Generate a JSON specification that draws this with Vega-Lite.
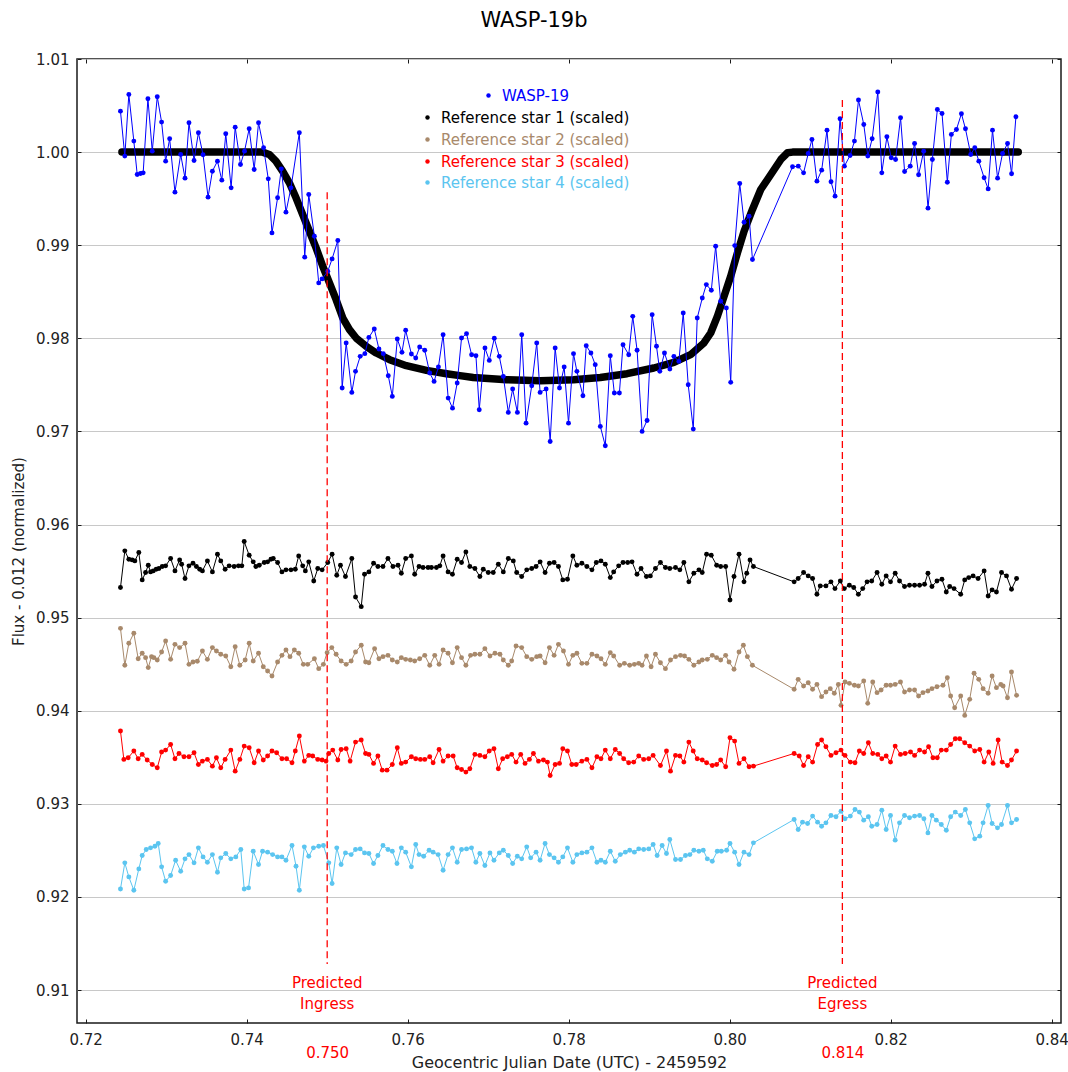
{
"$schema": "https://vega.github.io/schema/vega-lite/v6.json",
"width": 984, "height": 964,
"autosize": {"type": "none"},
"padding": {"left": 77, "top": 59, "right": 7, "bottom": 49},
"background": "white",
"title": {"text": "WASP-19b", "fontSize": 21, "font": "DejaVu Sans", "fontWeight": "normal", "color": "#000000", "anchor": "middle", "dx": -35, "offset": 21},
"config": {
  "view": {"stroke": "#1a1a1a", "strokeWidth": 1.5},
  "axis": {"labelFont": "DejaVu Sans", "labelFontSize": 15, "labelColor": "#222222", "titleFont": "DejaVu Sans", "titleFontSize": 15, "titleFontWeight": "normal", "titleColor": "#222222", "domain": false, "tickColor": "#1a1a1a", "tickSize": -4, "tickWidth": 1},
  "legend": {"padding": 0, "labelFont": "DejaVu Sans", "labelFontSize": 15, "labelLimit": 400, "symbolType": "circle", "symbolSize": 20, "symbolStrokeWidth": 0, "labelOffset": 6}
},
"datasets": {
"model": [
{"t":0.7245,"f":1.0},{"t":0.74197,"f":1.0},{"t":0.74280,"f":0.99975},{"t":0.74363,"f":0.99903},{"t":0.74446,"f":0.99795},{"t":0.74530,"f":0.99670},{"t":0.74613,"f":0.99509},{"t":0.74696,"f":0.99329},{"t":0.74779,"f":0.99150},{"t":0.74862,"f":0.98971},
{"t":0.74945,"f":0.98774},{"t":0.75028,"f":0.98595},{"t":0.75111,"f":0.98415},{"t":0.75194,"f":0.98218},{"t":0.75277,"f":0.98093},{"t":0.75360,"f":0.98003},{"t":0.75485,"f":0.97914},{"t":0.75610,"f":0.97842},{"t":0.75776,"f":0.97770},{"t":0.75983,"f":0.97706},
{"t":0.76233,"f":0.97656},{"t":0.76482,"f":0.97620},{"t":0.76648,"f":0.97599},{"t":0.76814,"f":0.97580},{"t":0.77230,"f":0.97555},{"t":0.77645,"f":0.97545},{"t":0.78060,"f":0.97555},{"t":0.78393,"f":0.97580},{"t":0.78725,"f":0.97620},{"t":0.79057,"f":0.97681},
{"t":0.79307,"f":0.97742},{"t":0.79514,"f":0.97824},{"t":0.79680,"f":0.97950},{"t":0.79764,"f":0.98057},{"t":0.79847,"f":0.98236},{"t":0.79930,"f":0.98451},{"t":0.80013,"f":0.98666},{"t":0.80096,"f":0.98917},{"t":0.80179,"f":0.99150},{"t":0.80283,"f":0.99384},
{"t":0.80386,"f":0.99598},{"t":0.80470,"f":0.99706},{"t":0.80553,"f":0.99813},{"t":0.80636,"f":0.99921},{"t":0.80719,"f":0.99993},{"t":0.80781,"f":1.0},{"t":0.83585,"f":1.0}
],
"wasp": [
{"t":0.72432,"f":1.00440},{"t":0.72486,"f":0.99957},{"t":0.72536,"f":1.00620},{"t":0.72598,"f":1.00118},{"t":0.72640,"f":0.99759},{"t":0.72681,"f":0.99770},{"t":0.72714,"f":0.99777},{"t":0.72773,"f":1.00573},{"t":0.72827,"f":1.00010},{"t":0.72889,"f":1.00595},
{"t":0.72943,"f":1.00322},{"t":0.72993,"f":0.99903},{"t":0.73043,"f":1.00143},{"t":0.73109,"f":0.99570},{"t":0.73180,"f":0.99975},{"t":0.73234,"f":0.99720},{"t":0.73283,"f":1.00315},{"t":0.73346,"f":0.99910},{"t":0.73400,"f":1.00208},{"t":0.73458,"f":0.99971},
{"t":0.73520,"f":0.99516},{"t":0.73574,"f":0.99795},{"t":0.73637,"f":0.99903},{"t":0.73691,"f":0.99699},{"t":0.73740,"f":1.00197},{"t":0.73807,"f":0.99616},{"t":0.73857,"f":1.00268},{"t":0.73923,"f":0.99867},{"t":0.73973,"f":1.00010},{"t":0.74031,"f":1.00251},
{"t":0.74093,"f":0.99813},{"t":0.74147,"f":1.00315},{"t":0.74210,"f":1.00046},{"t":0.74268,"f":0.99713},{"t":0.74314,"f":0.99132},{"t":0.74384,"f":0.99509},{"t":0.74430,"f":0.99820},{"t":0.74488,"f":0.99355},{"t":0.74550,"f":0.99616},{"t":0.74654,"f":1.00208},
{"t":0.74721,"f":0.98872},{"t":0.74771,"f":0.99545},{"t":0.74841,"f":0.99096},{"t":0.74895,"f":0.98595},{"t":0.74937,"f":0.98638},{"t":0.75007,"f":0.98720},{"t":0.75061,"f":0.98853},{"t":0.75132,"f":0.99050},{"t":0.75186,"f":0.97467},{"t":0.75236,"f":0.97950},
{"t":0.75306,"f":0.97419},{"t":0.75352,"f":0.97645},{"t":0.75410,"f":0.97806},{"t":0.75468,"f":0.97835},{"t":0.75518,"f":0.98010},{"t":0.75585,"f":0.98100},{"t":0.75643,"f":0.97885},{"t":0.75697,"f":0.97835},{"t":0.75759,"f":0.97598},{"t":0.75809,"f":0.97376},
{"t":0.75871,"f":0.97992},{"t":0.75929,"f":0.97849},{"t":0.75975,"f":0.98086},{"t":0.76046,"f":0.97832},{"t":0.76100,"f":0.97788},{"t":0.76149,"f":0.97907},{"t":0.76212,"f":0.97871},{"t":0.76274,"f":0.97627},{"t":0.76328,"f":0.97537},{"t":0.76382,"f":0.97692},
{"t":0.76440,"f":0.98039},{"t":0.76503,"f":0.97358},{"t":0.76557,"f":0.97250},{"t":0.76615,"f":0.97520},{"t":0.76669,"f":0.98003},{"t":0.76731,"f":0.98050},{"t":0.76794,"f":0.97824},{"t":0.76848,"f":0.97813},{"t":0.76889,"f":0.97233},{"t":0.76960,"f":0.97896},
{"t":0.77014,"f":0.97763},{"t":0.77076,"f":0.98000},{"t":0.77138,"f":0.97806},{"t":0.77188,"f":0.97591},{"t":0.77250,"f":0.97204},{"t":0.77304,"f":0.97455},{"t":0.77363,"f":0.97204},{"t":0.77417,"f":0.98039},{"t":0.77471,"f":0.97089},{"t":0.77541,"f":0.97491},
{"t":0.77603,"f":0.97950},{"t":0.77645,"f":0.97419},{"t":0.77720,"f":0.97455},{"t":0.77770,"f":0.96892},{"t":0.77832,"f":0.97896},{"t":0.77886,"f":0.97466},{"t":0.77944,"f":0.97692},{"t":0.77998,"f":0.97089},{"t":0.78060,"f":0.97835},{"t":0.78102,"f":0.97645},
{"t":0.78177,"f":0.97383},{"t":0.78218,"f":0.97921},{"t":0.78276,"f":0.97842},{"t":0.78330,"f":0.97717},{"t":0.78393,"f":0.97054},{"t":0.78455,"f":0.96846},{"t":0.78517,"f":0.97813},{"t":0.78567,"f":0.97412},{"t":0.78630,"f":0.97412},{"t":0.78675,"f":0.97931},
{"t":0.78746,"f":0.97824},{"t":0.78796,"f":0.98236},{"t":0.78850,"f":0.97871},{"t":0.78912,"f":0.97000},{"t":0.78974,"f":0.97118},{"t":0.79037,"f":0.98254},{"t":0.79091,"f":0.97914},{"t":0.79132,"f":0.97645},{"t":0.79190,"f":0.97842},{"t":0.79257,"f":0.97670},
{"t":0.79307,"f":0.97806},{"t":0.79369,"f":0.97752},{"t":0.79423,"f":0.98272},{"t":0.79485,"f":0.97501},{"t":0.79548,"f":0.97025},{"t":0.79597,"f":0.98218},{"t":0.79660,"f":0.98433},{"t":0.79710,"f":0.98577},{"t":0.79772,"f":0.98516},{"t":0.79826,"f":0.98989},
{"t":0.79888,"f":0.98398},{"t":0.79959,"f":0.98326},{"t":0.80013,"f":0.97527},{"t":0.80063,"f":0.98996},{"t":0.80125,"f":0.99663},{"t":0.80179,"f":0.99247},{"t":0.80241,"f":0.99312},{"t":0.80283,"f":0.98846},
{"t":0.80781,"f":0.99842},{"t":0.80852,"f":0.99849},{"t":0.80918,"f":0.99777},{"t":0.80976,"f":0.99985},{"t":0.81022,"f":1.00136},{"t":0.81084,"f":0.99688},{"t":0.81143,"f":0.99806},{"t":0.81209,"f":1.00236},{"t":0.81259,"f":0.99681},{"t":0.81309,"f":0.99527},
{"t":0.81371,"f":1.00358},{"t":0.81425,"f":0.99849},{"t":0.81496,"f":0.99964},{"t":0.81550,"f":1.00118},{"t":0.81600,"f":1.00559},{"t":0.81666,"f":1.00297},{"t":0.81716,"f":0.99957},{"t":0.81770,"f":1.00143},{"t":0.81840,"f":1.00645},{"t":0.81890,"f":0.99777},
{"t":0.81953,"f":1.00165},{"t":0.82007,"f":0.99939},{"t":0.82061,"f":0.99921},{"t":0.82123,"f":1.00369},{"t":0.82173,"f":0.99792},{"t":0.82243,"f":0.99849},{"t":0.82297,"f":1.00093},{"t":0.82347,"f":0.99756},{"t":0.82410,"f":1.00010},{"t":0.82464,"f":0.99398},
{"t":0.82518,"f":0.99921},{"t":0.82580,"f":1.00458},{"t":0.82638,"f":1.00415},{"t":0.82704,"f":0.99677},{"t":0.82754,"f":1.00190},{"t":0.82817,"f":1.00243},{"t":0.82879,"f":1.00412},{"t":0.82929,"f":1.00251},{"t":0.82995,"f":0.99975},{"t":0.83045,"f":1.00046},
{"t":0.83095,"f":0.99903},{"t":0.83161,"f":0.99724},{"t":0.83211,"f":0.99605},{"t":0.83265,"f":1.00236},{"t":0.83328,"f":0.99720},{"t":0.83390,"f":0.99985},{"t":0.83452,"f":1.00093},{"t":0.83502,"f":0.99767},{"t":0.83556,"f":1.00380}
],
"ref1": [
{"t":0.72432,"f":0.95323},{"t":0.72486,"f":0.95717},{"t":0.72536,"f":0.95627},{"t":0.72577,"f":0.95620},{"t":0.72611,"f":0.95609},{"t":0.72660,"f":0.95699},{"t":0.72702,"f":0.95405},{"t":0.72744,"f":0.95484},{"t":0.72777,"f":0.95563},{"t":0.72806,"f":0.95491},
{"t":0.72839,"f":0.95502},{"t":0.72876,"f":0.95520},{"t":0.72910,"f":0.95527},{"t":0.72951,"f":0.95549},{"t":0.72993,"f":0.95556},{"t":0.73055,"f":0.95635},{"t":0.73109,"f":0.95502},{"t":0.73167,"f":0.95620},{"t":0.73192,"f":0.95574},{"t":0.73234,"f":0.95420},
{"t":0.73283,"f":0.95556},{"t":0.73333,"f":0.95584},{"t":0.73375,"f":0.95549},{"t":0.73416,"f":0.95520},{"t":0.73450,"f":0.95502},{"t":0.73512,"f":0.95609},{"t":0.73574,"f":0.95491},{"t":0.73637,"f":0.95681},{"t":0.73678,"f":0.95609},{"t":0.73732,"f":0.95520},
{"t":0.73782,"f":0.95556},{"t":0.73844,"f":0.95549},{"t":0.73898,"f":0.95556},{"t":0.73940,"f":0.95556},{"t":0.73969,"f":0.95817},{"t":0.74031,"f":0.95670},{"t":0.74081,"f":0.95599},{"t":0.74114,"f":0.95549},{"t":0.74156,"f":0.95563},{"t":0.74218,"f":0.95592},
{"t":0.74260,"f":0.95599},{"t":0.74301,"f":0.95627},{"t":0.74330,"f":0.95635},{"t":0.74384,"f":0.95592},{"t":0.74438,"f":0.95491},{"t":0.74488,"f":0.95513},{"t":0.74550,"f":0.95513},{"t":0.74604,"f":0.95520},{"t":0.74646,"f":0.95663},{"t":0.74696,"f":0.95556},
{"t":0.74729,"f":0.95502},{"t":0.74771,"f":0.95599},{"t":0.74833,"f":0.95394},{"t":0.74883,"f":0.95527},{"t":0.74937,"f":0.95513},{"t":0.75007,"f":0.95592},{"t":0.75061,"f":0.95681},{"t":0.75119,"f":0.95455},{"t":0.75165,"f":0.95563},{"t":0.75227,"f":0.95441},
{"t":0.75306,"f":0.95635},{"t":0.75352,"f":0.95222},{"t":0.75423,"f":0.95118},{"t":0.75464,"f":0.95466},{"t":0.75518,"f":0.95491},{"t":0.75576,"f":0.95584},{"t":0.75630,"f":0.95549},{"t":0.75693,"f":0.95549},{"t":0.75755,"f":0.95635},{"t":0.75817,"f":0.95549},
{"t":0.75880,"f":0.95563},{"t":0.75921,"f":0.95477},{"t":0.75975,"f":0.95635},{"t":0.76046,"f":0.95663},{"t":0.76087,"f":0.95466},{"t":0.76141,"f":0.95549},{"t":0.76191,"f":0.95538},{"t":0.76253,"f":0.95538},{"t":0.76295,"f":0.95538},{"t":0.76357,"f":0.95538},
{"t":0.76399,"f":0.95556},{"t":0.76440,"f":0.95663},{"t":0.76502,"f":0.95491},{"t":0.76556,"f":0.95466},{"t":0.76615,"f":0.95627},{"t":0.76669,"f":0.95592},{"t":0.76723,"f":0.95706},{"t":0.76772,"f":0.95549},{"t":0.76835,"f":0.95527},{"t":0.76897,"f":0.95441},
{"t":0.76939,"f":0.95520},{"t":0.77001,"f":0.95484},{"t":0.77063,"f":0.95484},{"t":0.77126,"f":0.95574},{"t":0.77188,"f":0.95491},{"t":0.77250,"f":0.95635},{"t":0.77312,"f":0.95609},{"t":0.77354,"f":0.95484},{"t":0.77416,"f":0.95441},{"t":0.77479,"f":0.95513},
{"t":0.77541,"f":0.95527},{"t":0.77595,"f":0.95549},{"t":0.77645,"f":0.95599},{"t":0.77707,"f":0.95484},{"t":0.77761,"f":0.95584},{"t":0.77819,"f":0.95592},{"t":0.77873,"f":0.95549},{"t":0.77927,"f":0.95405},{"t":0.77985,"f":0.95412},{"t":0.78052,"f":0.95663},
{"t":0.78102,"f":0.95563},{"t":0.78164,"f":0.95584},{"t":0.78226,"f":0.95549},{"t":0.78289,"f":0.95513},{"t":0.78343,"f":0.95592},{"t":0.78401,"f":0.95609},{"t":0.78455,"f":0.95574},{"t":0.78517,"f":0.95430},{"t":0.78559,"f":0.95491},{"t":0.78621,"f":0.95556},
{"t":0.78675,"f":0.95592},{"t":0.78733,"f":0.95592},{"t":0.78787,"f":0.95599},{"t":0.78849,"f":0.95466},{"t":0.78899,"f":0.95527},{"t":0.78966,"f":0.95441},{"t":0.79015,"f":0.95448},{"t":0.79078,"f":0.95527},{"t":0.79140,"f":0.95592},{"t":0.79202,"f":0.95538},
{"t":0.79256,"f":0.95527},{"t":0.79327,"f":0.95538},{"t":0.79381,"f":0.95513},{"t":0.79431,"f":0.95592},{"t":0.79493,"f":0.95384},{"t":0.79555,"f":0.95477},{"t":0.79618,"f":0.95513},{"t":0.79659,"f":0.95484},{"t":0.79713,"f":0.95681},{"t":0.79771,"f":0.95670},
{"t":0.79838,"f":0.95563},{"t":0.79888,"f":0.95549},{"t":0.79950,"f":0.95549},{"t":0.80004,"f":0.95190},{"t":0.80054,"f":0.95441},{"t":0.80116,"f":0.95681},{"t":0.80178,"f":0.95384},{"t":0.80212,"f":0.95477},{"t":0.80253,"f":0.95620},{"t":0.80295,"f":0.95549},
{"t":0.80801,"f":0.95384},{"t":0.80851,"f":0.95420},{"t":0.80918,"f":0.95484},{"t":0.80976,"f":0.95448},{"t":0.81030,"f":0.95420},{"t":0.81084,"f":0.95251},{"t":0.81125,"f":0.95341},{"t":0.81196,"f":0.95341},{"t":0.81258,"f":0.95384},{"t":0.81308,"f":0.95312},
{"t":0.81375,"f":0.95394},{"t":0.81424,"f":0.95312},{"t":0.81487,"f":0.95348},{"t":0.81541,"f":0.95323},{"t":0.81599,"f":0.95251},{"t":0.81653,"f":0.95312},{"t":0.81707,"f":0.95384},{"t":0.81765,"f":0.95394},{"t":0.81831,"f":0.95484},{"t":0.81890,"f":0.95359},
{"t":0.81944,"f":0.95448},{"t":0.81998,"f":0.95384},{"t":0.82056,"f":0.95477},{"t":0.82110,"f":0.95394},{"t":0.82172,"f":0.95334},{"t":0.82234,"f":0.95348},{"t":0.82297,"f":0.95348},{"t":0.82359,"f":0.95348},{"t":0.82421,"f":0.95359},{"t":0.82463,"f":0.95477},
{"t":0.82513,"f":0.95334},{"t":0.82575,"f":0.95394},{"t":0.82637,"f":0.95412},{"t":0.82691,"f":0.95276},{"t":0.82733,"f":0.95334},{"t":0.82787,"f":0.95312},{"t":0.82870,"f":0.95251},{"t":0.82920,"f":0.95405},{"t":0.82970,"f":0.95430},{"t":0.83024,"f":0.95448},
{"t":0.83086,"f":0.95420},{"t":0.83161,"f":0.95502},{"t":0.83211,"f":0.95233},{"t":0.83260,"f":0.95298},{"t":0.83314,"f":0.95276},{"t":0.83377,"f":0.95484},{"t":0.83439,"f":0.95448},{"t":0.83501,"f":0.95305},{"t":0.83564,"f":0.95420}
],
"ref2": [
{"t":0.72432,"f":0.94885},{"t":0.72486,"f":0.94488},{"t":0.72536,"f":0.94724},{"t":0.72598,"f":0.94832},{"t":0.72652,"f":0.94559},{"t":0.72702,"f":0.94617},{"t":0.72744,"f":0.94570},{"t":0.72777,"f":0.94463},{"t":0.72818,"f":0.94581},{"t":0.72847,"f":0.94570},
{"t":0.72889,"f":0.94545},{"t":0.72943,"f":0.94631},{"t":0.72993,"f":0.94749},{"t":0.73055,"f":0.94552},{"t":0.73109,"f":0.94713},{"t":0.73167,"f":0.94678},{"t":0.73234,"f":0.94724},{"t":0.73283,"f":0.94498},{"t":0.73333,"f":0.94523},{"t":0.73387,"f":0.94531},
{"t":0.73450,"f":0.94642},{"t":0.73512,"f":0.94552},{"t":0.73574,"f":0.94678},{"t":0.73624,"f":0.94642},{"t":0.73678,"f":0.94606},{"t":0.73740,"f":0.94588},{"t":0.73803,"f":0.94473},{"t":0.73857,"f":0.94688},{"t":0.73915,"f":0.94488},{"t":0.73981,"f":0.94545},
{"t":0.74031,"f":0.94724},{"t":0.74081,"f":0.94534},{"t":0.74147,"f":0.94617},{"t":0.74206,"f":0.94473},{"t":0.74260,"f":0.94427},{"t":0.74314,"f":0.94373},{"t":0.74384,"f":0.94523},{"t":0.74438,"f":0.94595},{"t":0.74488,"f":0.94653},{"t":0.74538,"f":0.94581},
{"t":0.74592,"f":0.94653},{"t":0.74646,"f":0.94617},{"t":0.74704,"f":0.94498},{"t":0.74758,"f":0.94498},{"t":0.74841,"f":0.94559},{"t":0.74895,"f":0.94452},{"t":0.74953,"f":0.94498},{"t":0.74999,"f":0.94624},{"t":0.75057,"f":0.94678},{"t":0.75111,"f":0.94606},
{"t":0.75173,"f":0.94534},{"t":0.75236,"f":0.94498},{"t":0.75298,"f":0.94534},{"t":0.75352,"f":0.94631},{"t":0.75423,"f":0.94703},{"t":0.75477,"f":0.94523},{"t":0.75518,"f":0.94516},{"t":0.75589,"f":0.94667},{"t":0.75643,"f":0.94559},{"t":0.75693,"f":0.94581},
{"t":0.75755,"f":0.94595},{"t":0.75809,"f":0.94545},{"t":0.75871,"f":0.94523},{"t":0.75921,"f":0.94570},{"t":0.75975,"f":0.94552},{"t":0.76033,"f":0.94545},{"t":0.76087,"f":0.94534},{"t":0.76149,"f":0.94559},{"t":0.76212,"f":0.94595},{"t":0.76274,"f":0.94488},
{"t":0.76336,"f":0.94595},{"t":0.76390,"f":0.94498},{"t":0.76440,"f":0.94653},{"t":0.76502,"f":0.94617},{"t":0.76556,"f":0.94516},{"t":0.76615,"f":0.94678},{"t":0.76669,"f":0.94570},{"t":0.76723,"f":0.94488},{"t":0.76781,"f":0.94595},{"t":0.76835,"f":0.94606},
{"t":0.76897,"f":0.94606},{"t":0.76959,"f":0.94667},{"t":0.77022,"f":0.94588},{"t":0.77084,"f":0.94617},{"t":0.77146,"f":0.94606},{"t":0.77188,"f":0.94545},{"t":0.77250,"f":0.94488},{"t":0.77292,"f":0.94534},{"t":0.77346,"f":0.94696},{"t":0.77416,"f":0.94678},
{"t":0.77479,"f":0.94581},{"t":0.77541,"f":0.94552},{"t":0.77603,"f":0.94581},{"t":0.77645,"f":0.94588},{"t":0.77707,"f":0.94516},{"t":0.77761,"f":0.94678},{"t":0.77819,"f":0.94595},{"t":0.77873,"f":0.94713},{"t":0.77935,"f":0.94642},{"t":0.77998,"f":0.94498},
{"t":0.78052,"f":0.94595},{"t":0.78102,"f":0.94617},{"t":0.78164,"f":0.94509},{"t":0.78226,"f":0.94509},{"t":0.78289,"f":0.94606},{"t":0.78351,"f":0.94588},{"t":0.78401,"f":0.94559},{"t":0.78455,"f":0.94498},{"t":0.78517,"f":0.94624},{"t":0.78559,"f":0.94588},
{"t":0.78633,"f":0.94488},{"t":0.78692,"f":0.94509},{"t":0.78758,"f":0.94488},{"t":0.78816,"f":0.94498},{"t":0.78870,"f":0.94509},{"t":0.78912,"f":0.94488},{"t":0.78966,"f":0.94588},{"t":0.79024,"f":0.94473},{"t":0.79078,"f":0.94606},{"t":0.79140,"f":0.94516},
{"t":0.79202,"f":0.94452},{"t":0.79265,"f":0.94545},{"t":0.79327,"f":0.94581},{"t":0.79389,"f":0.94595},{"t":0.79439,"f":0.94588},{"t":0.79493,"f":0.94552},{"t":0.79555,"f":0.94488},{"t":0.79618,"f":0.94523},{"t":0.79659,"f":0.94545},{"t":0.79722,"f":0.94552},
{"t":0.79784,"f":0.94595},{"t":0.79838,"f":0.94570},{"t":0.79888,"f":0.94545},{"t":0.79950,"f":0.94595},{"t":0.79992,"f":0.94523},{"t":0.80054,"f":0.94445},{"t":0.80116,"f":0.94631},{"t":0.80170,"f":0.94703},{"t":0.80220,"f":0.94581},{"t":0.80282,"f":0.94488},
{"t":0.80801,"f":0.94230},{"t":0.80851,"f":0.94337},{"t":0.80918,"f":0.94265},{"t":0.80976,"f":0.94301},{"t":0.81030,"f":0.94230},{"t":0.81084,"f":0.94283},{"t":0.81142,"f":0.94151},{"t":0.81196,"f":0.94201},{"t":0.81250,"f":0.94237},{"t":0.81300,"f":0.94187},
{"t":0.81350,"f":0.94283},{"t":0.81383,"f":0.94058},{"t":0.81433,"f":0.94308},{"t":0.81487,"f":0.94294},{"t":0.81549,"f":0.94273},{"t":0.81599,"f":0.94265},{"t":0.81665,"f":0.94319},{"t":0.81715,"f":0.94079},{"t":0.81777,"f":0.94308},{"t":0.81831,"f":0.94194},
{"t":0.81881,"f":0.94222},{"t":0.81944,"f":0.94273},{"t":0.81998,"f":0.94273},{"t":0.82056,"f":0.94283},{"t":0.82122,"f":0.94308},{"t":0.82172,"f":0.94201},{"t":0.82234,"f":0.94222},{"t":0.82297,"f":0.94222},{"t":0.82347,"f":0.94158},{"t":0.82401,"f":0.94194},
{"t":0.82463,"f":0.94212},{"t":0.82513,"f":0.94237},{"t":0.82575,"f":0.94258},{"t":0.82650,"f":0.94273},{"t":0.82704,"f":0.94355},{"t":0.82745,"f":0.94158},{"t":0.82795,"f":0.94032},{"t":0.82870,"f":0.94158},{"t":0.82920,"f":0.93950},{"t":0.82982,"f":0.94122},
{"t":0.83036,"f":0.94402},{"t":0.83094,"f":0.94337},{"t":0.83148,"f":0.94237},{"t":0.83211,"f":0.94187},{"t":0.83260,"f":0.94373},{"t":0.83314,"f":0.94248},{"t":0.83368,"f":0.94283},{"t":0.83397,"f":0.94265},{"t":0.83451,"f":0.94140},{"t":0.83501,"f":0.94416},{"t":0.83564,"f":0.94165}
],
"ref3": [
{"t":0.72432,"f":0.93782},{"t":0.72474,"f":0.93477},{"t":0.72528,"f":0.93495},{"t":0.72598,"f":0.93567},{"t":0.72652,"f":0.93484},{"t":0.72702,"f":0.93531},{"t":0.72764,"f":0.93470},{"t":0.72827,"f":0.93423},{"t":0.72889,"f":0.93387},{"t":0.72943,"f":0.93556},
{"t":0.72993,"f":0.93577},{"t":0.73055,"f":0.93638},{"t":0.73109,"f":0.93484},{"t":0.73159,"f":0.93541},{"t":0.73221,"f":0.93506},{"t":0.73283,"f":0.93506},{"t":0.73346,"f":0.93549},{"t":0.73400,"f":0.93423},{"t":0.73450,"f":0.93459},{"t":0.73512,"f":0.93477},
{"t":0.73574,"f":0.93405},{"t":0.73624,"f":0.93495},{"t":0.73678,"f":0.93387},{"t":0.73732,"f":0.93477},{"t":0.73803,"f":0.93577},{"t":0.73857,"f":0.93351},{"t":0.73915,"f":0.93477},{"t":0.73969,"f":0.93620},{"t":0.74031,"f":0.93602},{"t":0.74093,"f":0.93441},
{"t":0.74147,"f":0.93567},{"t":0.74206,"f":0.93470},{"t":0.74260,"f":0.93513},{"t":0.74314,"f":0.93567},{"t":0.74372,"f":0.93549},{"t":0.74438,"f":0.93484},{"t":0.74496,"f":0.93484},{"t":0.74563,"f":0.93441},{"t":0.74604,"f":0.93567},{"t":0.74654,"f":0.93728},
{"t":0.74716,"f":0.93459},{"t":0.74771,"f":0.93520},{"t":0.74820,"f":0.93513},{"t":0.74883,"f":0.93477},{"t":0.74937,"f":0.93470},{"t":0.74986,"f":0.93459},{"t":0.75020,"f":0.93541},{"t":0.75069,"f":0.93577},{"t":0.75132,"f":0.93470},{"t":0.75173,"f":0.93584},
{"t":0.75236,"f":0.93592},{"t":0.75285,"f":0.93459},{"t":0.75352,"f":0.93663},{"t":0.75423,"f":0.93685},{"t":0.75477,"f":0.93541},{"t":0.75518,"f":0.93531},{"t":0.75576,"f":0.93434},{"t":0.75630,"f":0.93513},{"t":0.75684,"f":0.93362},{"t":0.75743,"f":0.93362},
{"t":0.75809,"f":0.93423},{"t":0.75871,"f":0.93602},{"t":0.75921,"f":0.93434},{"t":0.75975,"f":0.93448},{"t":0.76046,"f":0.93506},{"t":0.76100,"f":0.93484},{"t":0.76158,"f":0.93477},{"t":0.76212,"f":0.93477},{"t":0.76274,"f":0.93506},{"t":0.76316,"f":0.93441},
{"t":0.76390,"f":0.93584},{"t":0.76440,"f":0.93459},{"t":0.76502,"f":0.93513},{"t":0.76565,"f":0.93513},{"t":0.76615,"f":0.93387},{"t":0.76669,"f":0.93369},{"t":0.76723,"f":0.93341},{"t":0.76772,"f":0.93377},{"t":0.76835,"f":0.93531},{"t":0.76897,"f":0.93520},
{"t":0.76959,"f":0.93506},{"t":0.77013,"f":0.93567},{"t":0.77072,"f":0.93592},{"t":0.77126,"f":0.93377},{"t":0.77180,"f":0.93484},{"t":0.77238,"f":0.93506},{"t":0.77292,"f":0.93531},{"t":0.77346,"f":0.93448},{"t":0.77404,"f":0.93531},{"t":0.77458,"f":0.93434},
{"t":0.77512,"f":0.93477},{"t":0.77562,"f":0.93541},{"t":0.77624,"f":0.93459},{"t":0.77686,"f":0.93470},{"t":0.77736,"f":0.93448},{"t":0.77770,"f":0.93305},{"t":0.77832,"f":0.93423},{"t":0.77886,"f":0.93434},{"t":0.77927,"f":0.93592},{"t":0.77985,"f":0.93567},
{"t":0.78039,"f":0.93423},{"t":0.78093,"f":0.93423},{"t":0.78164,"f":0.93459},{"t":0.78226,"f":0.93477},{"t":0.78289,"f":0.93387},{"t":0.78351,"f":0.93506},{"t":0.78401,"f":0.93484},{"t":0.78455,"f":0.93577},{"t":0.78517,"f":0.93484},{"t":0.78579,"f":0.93584},
{"t":0.78633,"f":0.93541},{"t":0.78683,"f":0.93484},{"t":0.78745,"f":0.93441},{"t":0.78808,"f":0.93448},{"t":0.78870,"f":0.93513},{"t":0.78932,"f":0.93477},{"t":0.78995,"f":0.93484},{"t":0.79049,"f":0.93520},{"t":0.79140,"f":0.93412},{"t":0.79215,"f":0.93567},
{"t":0.79265,"f":0.93351},{"t":0.79327,"f":0.93520},{"t":0.79381,"f":0.93513},{"t":0.79431,"f":0.93448},{"t":0.79493,"f":0.93663},{"t":0.79547,"f":0.93567},{"t":0.79597,"f":0.93484},{"t":0.79659,"f":0.93470},{"t":0.79713,"f":0.93441},{"t":0.79784,"f":0.93412},
{"t":0.79838,"f":0.93423},{"t":0.79888,"f":0.93470},{"t":0.79950,"f":0.93398},{"t":0.80004,"f":0.93710},{"t":0.80062,"f":0.93674},{"t":0.80116,"f":0.93434},{"t":0.80178,"f":0.93484},{"t":0.80241,"f":0.93398},{"t":0.80295,"f":0.93405},
{"t":0.80801,"f":0.93541},{"t":0.80864,"f":0.93513},{"t":0.80918,"f":0.93412},{"t":0.80976,"f":0.93506},{"t":0.81030,"f":0.93448},{"t":0.81092,"f":0.93638},{"t":0.81142,"f":0.93685},{"t":0.81196,"f":0.93613},{"t":0.81258,"f":0.93520},{"t":0.81321,"f":0.93549},
{"t":0.81383,"f":0.93577},{"t":0.81433,"f":0.93520},{"t":0.81499,"f":0.93448},{"t":0.81557,"f":0.93441},{"t":0.81611,"f":0.93567},{"t":0.81665,"f":0.93541},{"t":0.81723,"f":0.93656},{"t":0.81777,"f":0.93541},{"t":0.81840,"f":0.93531},{"t":0.81890,"f":0.93484},
{"t":0.81944,"f":0.93513},{"t":0.81998,"f":0.93448},{"t":0.82056,"f":0.93620},{"t":0.82122,"f":0.93531},{"t":0.82180,"f":0.93541},{"t":0.82247,"f":0.93556},{"t":0.82297,"f":0.93520},{"t":0.82359,"f":0.93577},{"t":0.82421,"f":0.93556},{"t":0.82471,"f":0.93613},
{"t":0.82525,"f":0.93495},{"t":0.82579,"f":0.93495},{"t":0.82629,"f":0.93577},{"t":0.82691,"f":0.93577},{"t":0.82745,"f":0.93638},{"t":0.82803,"f":0.93699},{"t":0.82857,"f":0.93699},{"t":0.82920,"f":0.93656},{"t":0.82982,"f":0.93620},{"t":0.83044,"f":0.93567},
{"t":0.83107,"f":0.93584},{"t":0.83161,"f":0.93448},{"t":0.83219,"f":0.93556},{"t":0.83273,"f":0.93434},{"t":0.83335,"f":0.93685},{"t":0.83385,"f":0.93448},{"t":0.83451,"f":0.93412},{"t":0.83501,"f":0.93470},{"t":0.83564,"f":0.93567}
],
"ref4": [
{"t":0.72432,"f":0.92086},{"t":0.72486,"f":0.92366},{"t":0.72536,"f":0.92215},{"t":0.72598,"f":0.92072},{"t":0.72660,"f":0.92301},{"t":0.72702,"f":0.92445},{"t":0.72752,"f":0.92509},{"t":0.72806,"f":0.92527},{"t":0.72860,"f":0.92545},{"t":0.72901,"f":0.92574},
{"t":0.72943,"f":0.92323},{"t":0.72993,"f":0.92169},{"t":0.73055,"f":0.92230},{"t":0.73117,"f":0.92394},{"t":0.73180,"f":0.92276},{"t":0.73234,"f":0.92409},{"t":0.73283,"f":0.92455},{"t":0.73346,"f":0.92366},{"t":0.73400,"f":0.92527},{"t":0.73458,"f":0.92430},
{"t":0.73512,"f":0.92373},{"t":0.73574,"f":0.92455},{"t":0.73637,"f":0.92265},{"t":0.73678,"f":0.92420},{"t":0.73740,"f":0.92466},{"t":0.73803,"f":0.92409},{"t":0.73865,"f":0.92430},{"t":0.73927,"f":0.92509},{"t":0.73969,"f":0.92086},{"t":0.74023,"f":0.92097},
{"t":0.74081,"f":0.92491},{"t":0.74147,"f":0.92348},{"t":0.74197,"f":0.92491},{"t":0.74260,"f":0.92481},{"t":0.74322,"f":0.92455},{"t":0.74384,"f":0.92430},{"t":0.74438,"f":0.92430},{"t":0.74488,"f":0.92394},{"t":0.74563,"f":0.92552},{"t":0.74613,"f":0.92330},
{"t":0.74654,"f":0.92072},{"t":0.74716,"f":0.92538},{"t":0.74771,"f":0.92437},{"t":0.74829,"f":0.92527},{"t":0.74895,"f":0.92545},{"t":0.74953,"f":0.92552},{"t":0.75020,"f":0.92366},{"t":0.75061,"f":0.92144},{"t":0.75119,"f":0.92527},{"t":0.75173,"f":0.92348},
{"t":0.75227,"f":0.92473},{"t":0.75298,"f":0.92455},{"t":0.75352,"f":0.92509},{"t":0.75410,"f":0.92516},{"t":0.75464,"f":0.92473},{"t":0.75518,"f":0.92466},{"t":0.75576,"f":0.92359},{"t":0.75630,"f":0.92445},{"t":0.75693,"f":0.92552},{"t":0.75755,"f":0.92509},
{"t":0.75809,"f":0.92491},{"t":0.75867,"f":0.92359},{"t":0.75921,"f":0.92527},{"t":0.75975,"f":0.92481},{"t":0.76046,"f":0.92323},{"t":0.76100,"f":0.92563},{"t":0.76141,"f":0.92455},{"t":0.76199,"f":0.92437},{"t":0.76266,"f":0.92502},{"t":0.76316,"f":0.92481},
{"t":0.76378,"f":0.92455},{"t":0.76440,"f":0.92287},{"t":0.76502,"f":0.92455},{"t":0.76556,"f":0.92527},{"t":0.76615,"f":0.92373},{"t":0.76669,"f":0.92509},{"t":0.76731,"f":0.92516},{"t":0.76793,"f":0.92527},{"t":0.76847,"f":0.92373},{"t":0.76897,"f":0.92466},
{"t":0.76959,"f":0.92337},{"t":0.77022,"f":0.92473},{"t":0.77072,"f":0.92394},{"t":0.77138,"f":0.92473},{"t":0.77188,"f":0.92502},{"t":0.77250,"f":0.92445},{"t":0.77304,"f":0.92359},{"t":0.77362,"f":0.92437},{"t":0.77416,"f":0.92409},{"t":0.77479,"f":0.92538},
{"t":0.77528,"f":0.92420},{"t":0.77595,"f":0.92481},{"t":0.77645,"f":0.92394},{"t":0.77707,"f":0.92574},{"t":0.77761,"f":0.92455},{"t":0.77819,"f":0.92420},{"t":0.77873,"f":0.92373},{"t":0.77927,"f":0.92430},{"t":0.77985,"f":0.92527},{"t":0.78052,"f":0.92373},
{"t":0.78102,"f":0.92455},{"t":0.78164,"f":0.92473},{"t":0.78226,"f":0.92481},{"t":0.78289,"f":0.92527},{"t":0.78351,"f":0.92373},{"t":0.78401,"f":0.92394},{"t":0.78455,"f":0.92373},{"t":0.78517,"f":0.92491},{"t":0.78579,"f":0.92384},{"t":0.78642,"f":0.92455},
{"t":0.78704,"f":0.92481},{"t":0.78758,"f":0.92502},{"t":0.78816,"f":0.92481},{"t":0.78870,"f":0.92516},{"t":0.78932,"f":0.92509},{"t":0.78995,"f":0.92516},{"t":0.79049,"f":0.92563},{"t":0.79099,"f":0.92445},{"t":0.79161,"f":0.92552},{"t":0.79215,"f":0.92466},
{"t":0.79256,"f":0.92617},{"t":0.79327,"f":0.92402},{"t":0.79389,"f":0.92402},{"t":0.79451,"f":0.92445},{"t":0.79506,"f":0.92455},{"t":0.79555,"f":0.92502},{"t":0.79618,"f":0.92491},{"t":0.79672,"f":0.92502},{"t":0.79722,"f":0.92409},{"t":0.79784,"f":0.92384},
{"t":0.79846,"f":0.92491},{"t":0.79896,"f":0.92491},{"t":0.79962,"f":0.92502},{"t":0.80004,"f":0.92574},{"t":0.80062,"f":0.92481},{"t":0.80116,"f":0.92348},{"t":0.80178,"f":0.92481},{"t":0.80241,"f":0.92455},{"t":0.80295,"f":0.92581},
{"t":0.80801,"f":0.92832},{"t":0.80851,"f":0.92724},{"t":0.80905,"f":0.92803},{"t":0.80968,"f":0.92789},{"t":0.81030,"f":0.92868},{"t":0.81092,"f":0.92803},{"t":0.81142,"f":0.92760},{"t":0.81196,"f":0.92796},{"t":0.81258,"f":0.92875},{"t":0.81321,"f":0.92861},
{"t":0.81383,"f":0.92921},{"t":0.81433,"f":0.92839},{"t":0.81499,"f":0.92868},{"t":0.81557,"f":0.92939},{"t":0.81611,"f":0.92911},{"t":0.81665,"f":0.92825},{"t":0.81723,"f":0.92861},{"t":0.81765,"f":0.92760},{"t":0.81831,"f":0.92778},{"t":0.81890,"f":0.92932},
{"t":0.81944,"f":0.92724},{"t":0.81998,"f":0.92875},{"t":0.82056,"f":0.92610},{"t":0.82110,"f":0.92796},{"t":0.82172,"f":0.92875},{"t":0.82234,"f":0.92850},{"t":0.82297,"f":0.92868},{"t":0.82359,"f":0.92875},{"t":0.82413,"f":0.92839},{"t":0.82463,"f":0.92688},
{"t":0.82513,"f":0.92875},{"t":0.82567,"f":0.92825},{"t":0.82629,"f":0.92778},{"t":0.82691,"f":0.92717},{"t":0.82745,"f":0.92861},{"t":0.82803,"f":0.92911},{"t":0.82870,"f":0.92875},{"t":0.82928,"f":0.92939},{"t":0.82982,"f":0.92796},{"t":0.83044,"f":0.92624},
{"t":0.83107,"f":0.92653},{"t":0.83148,"f":0.92796},{"t":0.83211,"f":0.92982},{"t":0.83260,"f":0.92789},{"t":0.83327,"f":0.92742},{"t":0.83377,"f":0.92778},{"t":0.83451,"f":0.92982},{"t":0.83501,"f":0.92796},{"t":0.83564,"f":0.92832}
],
"marks": [
{"t":0.750,"top":0.9957,"bottom":0.9128,"label":"Predicted\nIngress"},
{"t":0.814,"top":1.0056,"bottom":0.9128,"label":"Predicted\nEgress"}
]
},
"layer": [
{
  "data": {"name": "model"},
  "mark": {"type": "line", "color": "#000000", "strokeWidth": 7.5, "strokeCap": "round", "strokeJoin": "round"},
  "encoding": {
    "x": {"field": "t", "type": "quantitative", "scale": {"domain": [0.71892, 0.84116], "nice": false, "zero": false},
      "axis": {"orient": "bottom", "values": [0.72, 0.74, 0.75, 0.76, 0.78, 0.8, 0.814, 0.82, 0.84],
        "labelExpr": "datum.value == 0.75 ? '0.750' : (datum.value == 0.814 ? '0.814' : format(datum.value, '.2f'))",
        "labelColor": {"condition": {"test": "datum.value == 0.75 || datum.value == 0.814", "value": "#ff0000"}, "value": "#222222"},
        "labelPadding": {"condition": {"test": "datum.value == 0.75 || datum.value == 0.814", "value": 26}, "value": 13},
        "tickOpacity": {"condition": {"test": "datum.value == 0.75 || datum.value == 0.814", "value": 0}, "value": 1},
        "labelFlush": false, "labelOverlap": false, "grid": false,
        "title": "Geocentric Julian Date (UTC) - 2459592", "titleFontSize": 16, "titleY": 39, "titleBaseline": "middle"}},
    "y": {"field": "f", "type": "quantitative", "scale": {"domain": [0.90646, 1.01], "nice": false, "zero": false},
      "axis": {"orient": "left", "values": [0.91, 0.92, 0.93, 0.94, 0.95, 0.96, 0.97, 0.98, 0.99, 1.0, 1.01], "format": ".2f",
        "grid": true, "gridColor": "#c8c8c8", "gridWidth": 1, "labelPadding": 12,
        "title": "Flux - 0.012 (normalized)", "titleX": -59, "titleY": 492, "titleAngle": 270, "titleBaseline": "middle", "titleAlign": "center"}}
  }
},
{
  "data": {"name": "wasp"},
  "mark": {"type": "line", "strokeWidth": 1, "point": {"filled": true, "size": 24}},
  "encoding": {
    "x": {"field": "t", "type": "quantitative", "scale": {"domain": [0.71892, 0.84116], "nice": false, "zero": false}, "axis": null},
    "y": {"field": "f", "type": "quantitative", "scale": {"domain": [0.90646, 1.01], "nice": false, "zero": false}, "axis": null},
    "color": {"datum": "WASP-19", "scale": {"range": ["#0000ff"]},
      "legend": {"title": null, "orient": "none", "legendX": 404, "legendY": 29, "labelColor": "#0000ff", "symbolFillColor": "#0000ff", "symbolStrokeColor": "#0000ff"}}
  }
},
{
  "data": {"name": "ref1"},
  "mark": {"type": "line", "strokeWidth": 1, "point": {"filled": true, "size": 24}},
  "encoding": {
    "x": {"field": "t", "type": "quantitative", "scale": {"domain": [0.71892, 0.84116], "nice": false, "zero": false}, "axis": null},
    "y": {"field": "f", "type": "quantitative", "scale": {"domain": [0.90646, 1.01], "nice": false, "zero": false}, "axis": null},
    "color": {"datum": "Reference star 1 (scaled)", "scale": {"range": ["#000000"]},
      "legend": {"title": null, "orient": "none", "legendX": 343, "legendY": 51, "labelColor": "#000000", "symbolFillColor": "#000000", "symbolStrokeColor": "#000000"}}
  }
},
{
  "data": {"name": "ref2"},
  "mark": {"type": "line", "strokeWidth": 1, "point": {"filled": true, "size": 24}},
  "encoding": {
    "x": {"field": "t", "type": "quantitative", "scale": {"domain": [0.71892, 0.84116], "nice": false, "zero": false}, "axis": null},
    "y": {"field": "f", "type": "quantitative", "scale": {"domain": [0.90646, 1.01], "nice": false, "zero": false}, "axis": null},
    "color": {"datum": "Reference star 2 (scaled)", "scale": {"range": ["#a8896b"]},
      "legend": {"title": null, "orient": "none", "legendX": 343, "legendY": 73, "labelColor": "#a8896b", "symbolFillColor": "#a8896b", "symbolStrokeColor": "#a8896b"}}
  }
},
{
  "data": {"name": "ref3"},
  "mark": {"type": "line", "strokeWidth": 1, "point": {"filled": true, "size": 24}},
  "encoding": {
    "x": {"field": "t", "type": "quantitative", "scale": {"domain": [0.71892, 0.84116], "nice": false, "zero": false}, "axis": null},
    "y": {"field": "f", "type": "quantitative", "scale": {"domain": [0.90646, 1.01], "nice": false, "zero": false}, "axis": null},
    "color": {"datum": "Reference star 3 (scaled)", "scale": {"range": ["#ff0000"]},
      "legend": {"title": null, "orient": "none", "legendX": 343, "legendY": 95, "labelColor": "#ff0000", "symbolFillColor": "#ff0000", "symbolStrokeColor": "#ff0000"}}
  }
},
{
  "data": {"name": "ref4"},
  "mark": {"type": "line", "strokeWidth": 1, "point": {"filled": true, "size": 24}},
  "encoding": {
    "x": {"field": "t", "type": "quantitative", "scale": {"domain": [0.71892, 0.84116], "nice": false, "zero": false}, "axis": null},
    "y": {"field": "f", "type": "quantitative", "scale": {"domain": [0.90646, 1.01], "nice": false, "zero": false}, "axis": null},
    "color": {"datum": "Reference star 4 (scaled)", "scale": {"range": ["#5bc5f0"]},
      "legend": {"title": null, "orient": "none", "legendX": 343, "legendY": 116, "labelColor": "#5bc5f0", "symbolFillColor": "#5bc5f0", "symbolStrokeColor": "#5bc5f0"}}
  }
},
{
  "data": {"name": "marks"},
  "mark": {"type": "rule", "color": "#ff0000", "strokeWidth": 1.3, "strokeDash": [7, 4]},
  "encoding": {
    "x": {"field": "t", "type": "quantitative", "scale": {"domain": [0.71892, 0.84116], "nice": false, "zero": false}, "axis": null},
    "y": {"field": "top", "type": "quantitative", "scale": {"domain": [0.90646, 1.01], "nice": false, "zero": false}, "axis": null},
    "y2": {"field": "bottom"}
  }
},
{
  "data": {"name": "marks"},
  "mark": {"type": "text", "color": "#ff0000", "font": "DejaVu Sans", "fontSize": 15, "baseline": "top", "align": "center", "lineBreak": "\n", "lineHeight": 21},
  "encoding": {
    "x": {"field": "t", "type": "quantitative", "scale": {"domain": [0.71892, 0.84116], "nice": false, "zero": false},
      "axis": {"orient": "top", "labels": false, "title": null, "grid": false, "values": [0.72, 0.74, 0.76, 0.78, 0.8, 0.82, 0.84]}},
    "y": {"datum": 0.9115, "type": "quantitative", "scale": {"domain": [0.90646, 1.01], "nice": false, "zero": false},
      "axis": {"orient": "right", "labels": false, "title": null, "grid": false, "values": [0.91, 0.92, 0.93, 0.94, 0.95, 0.96, 0.97, 0.98, 0.99, 1.0, 1.01]}},
    "text": {"field": "label"}
  }
}
],
"resolve": {"scale": {"color": "independent"}, "axis": {"x": "independent", "y": "independent"}}
}
